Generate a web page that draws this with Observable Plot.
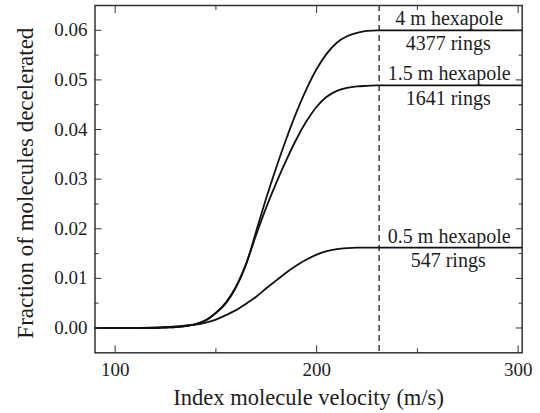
<!DOCTYPE html>
<html>
<head>
<meta charset="utf-8">
<script src="https://cdn.jsdelivr.net/npm/d3@7"></script>
<script src="https://cdn.jsdelivr.net/npm/@observablehq/plot@0.6"></script>
<style>
  html, body { margin: 0; padding: 0; background: #fff; }
</style>
</head>
<body>
<div id="chart"></div>
<script>
// Index molecule velocity (m/s) sampled along each curve
const velocity = [90, 100, 110, 120, 125, 130, 135, 140, 145, 150, 155, 160, 165, 170, 175,
  180, 185, 190, 195, 200, 205, 210, 215, 220, 225, 230, 240, 260, 280, 302];

// Fraction of molecules decelerated for each hexapole length
const fraction4m = [0, 0, 0, 0, 0.0001, 0.0002, 0.0004, 0.0008, 0.0015, 0.0030, 0.0050, 0.0082, 0.0128, 0.0195, 0.0262,
  0.0324, 0.0382, 0.0435, 0.0482, 0.0522, 0.0553, 0.0575, 0.0588, 0.0595, 0.0599, 0.0600, 0.0600, 0.0600, 0.0600, 0.0600];
const fraction1p5m = [0, 0, 0, 0, 0.0001, 0.0002, 0.0004, 0.0008, 0.0016, 0.0031, 0.0052, 0.0084, 0.0130, 0.0188, 0.0243,
  0.0293, 0.0339, 0.0381, 0.0417, 0.0446, 0.0466, 0.0478, 0.0484, 0.0487, 0.0488, 0.0489, 0.0489, 0.0489, 0.0489, 0.0489];
const fraction0p5m = [0, 0, 0, 0.0001, 0.0002, 0.0003, 0.0005, 0.0007, 0.0011, 0.0017, 0.0026, 0.0036, 0.0049, 0.0063, 0.0080,
  0.0096, 0.0112, 0.0126, 0.0138, 0.0148, 0.0155, 0.0159, 0.0161, 0.0162, 0.0162, 0.0162, 0.0162, 0.0162, 0.0162, 0.0162];

const hexapoles = ["4 m hexapole", "1.5 m hexapole", "0.5 m hexapole"];
const rings = ["4377 rings", "1641 rings", "547 rings"];

// Velocity marked by the dashed line
const cutoffVelocity = [231];

// Axis ticks
const xMajorTicks = [100, 200, 300];
const xMinorTicks = [150, 250];
const yMajorTicks = [0, 0.01, 0.02, 0.03, 0.04, 0.05, 0.06];
const yMinorTicks = [0.005, 0.015, 0.025, 0.035, 0.045, 0.055];

const xTitle = "Index molecule velocity (m/s)";
const yTitle = "Fraction of molecules decelerated";

// Long-format rows for the line mark
const curves = [fraction4m, fraction1p5m, fraction0p5m];
const rows = curves.flatMap((ys, k) =>
  velocity.map((v, i) => ({v, f: ys[i], series: hexapoles[k]})));
// One label pair per curve, placed at its plateau value
const plateaus = curves.map((ys, k) => ({
  name: hexapoles[k], rings: rings[k], f: ys[ys.length - 1]
}));

const ink = "#1e1e1e";
const serif = "Liberation Serif";
const fmtY = d3.format(".2f");

const chart = Plot.plot({
  width: 540,
  height: 413,
  marginLeft: 94.5,
  marginRight: 18.3,
  marginTop: 5,
  marginBottom: 60.7,
  x: {domain: [90, 302], label: null},
  y: {domain: [-0.005, 0.065], label: null},
  style: {color: ink, background: "#fff"},
  marks: [
    Plot.ruleX(cutoffVelocity, {stroke: ink, strokeWidth: 1.3, strokeDasharray: "6,4"}),
    Plot.line(rows, {x: "v", y: "f", z: "series", curve: "monotone-x", stroke: "#111", strokeWidth: 1.8}),
    Plot.text(plateaus, {
      y: "f", text: "name", frameAnchor: "right", textAnchor: "middle",
      dx: -73, dy: -5, lineAnchor: "bottom", fontSize: 20, fill: ink
    }),
    Plot.text(plateaus, {
      y: "f", text: "rings", frameAnchor: "right", textAnchor: "middle",
      dx: -74, dy: 5, lineAnchor: "top", fontSize: 20, fill: ink
    }),

    // inward ticks on all four sides
    Plot.axisX(xMajorTicks, {anchor: "bottom", tickSize: -7, tickPadding: 17, fontSize: 19, tickFormat: d => d, label: null, stroke: "#333"}),
    Plot.axisX(xMinorTicks, {anchor: "bottom", tickSize: -4, tickFormat: () => "", label: null, stroke: "#333"}),
    Plot.axisX(xMajorTicks, {anchor: "top", tickSize: -7, tickFormat: () => "", label: null, stroke: "#333"}),
    Plot.axisX(xMinorTicks, {anchor: "top", tickSize: -4, tickFormat: () => "", label: null, stroke: "#333"}),
    Plot.axisY(yMajorTicks, {anchor: "left", tickSize: -7, tickPadding: 14.6, fontSize: 19, tickFormat: fmtY, label: null, stroke: "#333"}),
    Plot.axisY(yMinorTicks, {anchor: "left", tickSize: -4, tickFormat: () => "", label: null, stroke: "#333"}),
    Plot.axisY(yMajorTicks, {anchor: "right", tickSize: -7, tickFormat: () => "", label: null, stroke: "#333"}),
    Plot.axisY(yMinorTicks, {anchor: "right", tickSize: -4, tickFormat: () => "", label: null, stroke: "#333"}),

    Plot.frame({stroke: "#333", strokeWidth: 1.5}),

    Plot.text([xTitle], {frameAnchor: "bottom", textAnchor: "middle", dy: 51.7, lineAnchor: "bottom", fontSize: 22.5, fill: ink}),
    Plot.text([yTitle], {frameAnchor: "left", textAnchor: "middle", dx: -62, dy: 4, rotate: -90, lineAnchor: "bottom", fontSize: 23, fill: ink})
  ]
});

// Serif face for every label in the figure
chart.setAttribute("font-family", serif);
d3.select(chart).selectAll("g, text")
  .attr("font-family", serif)
  .style("font-family", serif);

document.getElementById("chart").appendChild(chart);
</script>
</body>
</html>
